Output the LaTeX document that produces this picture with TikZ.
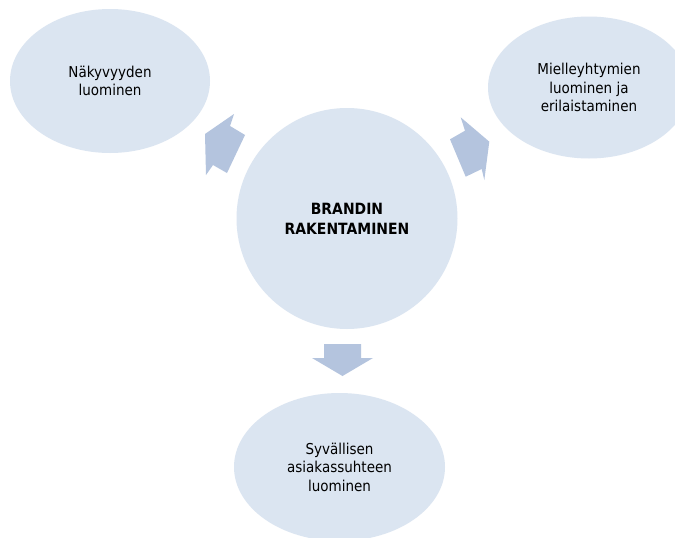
\documentclass[tikz,border=0pt]{standalone}
\usepackage{fontspec}
\setmainfont[FakeStretch=0.9]{DejaVu Sans}
\usetikzlibrary{shapes.geometric}
\definecolor{bubble}{RGB}{219,229,241}
\definecolor{arrowc}{RGB}{180,196,222}
\tikzset{
  bub/.style={ellipse, fill=bubble, draw=none, inner sep=0pt, align=center,
    font=\fontsize{15}{18.5}\selectfont, text=black},
  blockarrow/.style={fill=arrowc, draw=none}
}
\begin{document}
\begin{tikzpicture}[x=1pt,y=-1pt]
\useasboundingbox (0,0) rectangle (675,538);
\fill[white] (0,0) rectangle (675,538);
\clip (0,0) rectangle (675,538);
\node[bub, minimum width=200pt, minimum height=144pt] (left) at (110,81) {Näkyvyyden\\luominen};
\node[bub, minimum width=202pt, minimum height=142pt] (right) at (589,87.5) {Mielleyhtymien\\luominen ja\\erilaistaminen};
\node[bub, circle, minimum size=221pt, font=\fontsize{15.5}{20}\selectfont\bfseries] (center) at (347,218.5) {BRANDIN\\RAKENTAMINEN};
\node[bub, minimum width=211pt, minimum height=148pt] (bottom) at (339.5,467) {Syvällisen\\asiakassuhteen\\luominen};
\fill[blockarrow] (205,134) -- (234,114) -- (230,126) -- (245,135) -- (227,173) -- (213,165) -- (206,175) -- cycle;
\fill[blockarrow] (460.7,117.3) -- (465,130.7) -- (450,139.3) -- (465.7,176.7) -- (481.7,169) -- (484.3,180) -- (489.3,141.7) -- cycle;
\fill[blockarrow] (324,344) -- (361,344) -- (361,358) -- (373,358) -- (342.5,376) -- (312,358) -- (324,358) -- cycle;
\end{tikzpicture}
\end{document}
